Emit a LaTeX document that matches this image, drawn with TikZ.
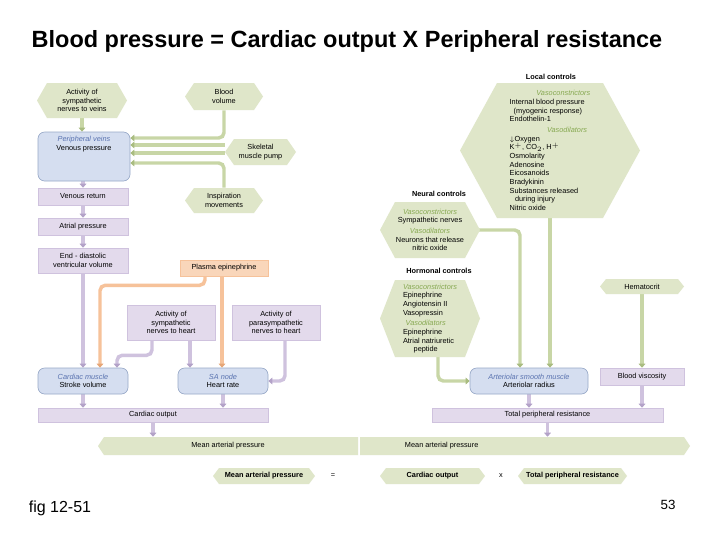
\documentclass[tikz,border=0pt]{standalone}
\usepackage{fontspec}
\setmainfont{Liberation Sans}
\usetikzlibrary{arrows.meta,calc}
\pgfdeclarelayer{bg}\pgfsetlayers{bg,main}
\definecolor{gf}{HTML}{DFE6C9}\definecolor{gl}{HTML}{C8D6A6}\definecolor{gd}{HTML}{A9BC80}
\definecolor{pf}{HTML}{E3DAEC}\definecolor{pl}{HTML}{CFC2DE}\definecolor{pd}{HTML}{B3A2C8}
\definecolor{bf}{HTML}{D5DEF0}\definecolor{bd}{HTML}{98A9C8}
\definecolor{of}{HTML}{F9D6BA}\definecolor{ol}{HTML}{F6C29A}\definecolor{od}{HTML}{E6A677}
\definecolor{bi}{HTML}{5A73B0}\definecolor{gi}{HTML}{86A850}
\newcommand\bx[7]{%
 \pgfmathsetmacro\cx{(#2+#4)/2}\pgfmathsetmacro\cy{(#3+#5)/2}%
 \pgfmathsetmacro\w{(#4-#2)*0.75}\pgfmathsetmacro\h{(#5-#3)*0.75}%
 \node[#6, minimum width=\w pt, minimum height=\h pt] (#1) at (\cx,\cy) {#7};}
\newcommand\hxs[8]{%
 \pgfmathsetmacro\cy{(#3+#5)/2}%
 \fill[gf] (#2,\cy)--(#2+#6,#3)--(#4-#6,#3)--(#4,\cy)--(#4-#6,#5)--(#2+#6,#5)--cycle;
 \bx{#1}{#2}{#3}{#4}{#5}{#8}{#7}}
\newcommand\hx[7]{\hxs{#1}{#2}{#3}{#4}{#5}{#6}{#7}{t}}
\newcommand\vc[1]{\textcolor{bi}{\itshape #1}}
\newcommand\gc[1]{\textcolor{gi}{\itshape #1}}
\tikzset{t/.style={inner sep=0pt,align=center,font=\fontsize{5.5}{6.5}\selectfont},
 tl/.style={t,align=left},
 pb/.style={t,fill=pf,draw=pl,line width=0.4pt},
 ob/.style={t,fill=of,draw=ol,line width=0.4pt},
 rb/.style={t,fill=bf,draw=bd,line width=0.5pt,rounded corners=5pt},
 G/.style={draw=gl,line width=2.6pt,rounded corners=4pt,-{Triangle[width=5pt,length=3pt,color=gd]}},
 P/.style={G,draw=pl,-{Triangle[width=5pt,length=3pt,color=pd]}},
 O/.style={G,draw=ol,-{Triangle[width=5pt,length=3pt,color=od]}},
 lab/.style={font=\fontsize{5.5}{6.5}\selectfont\bfseries}}
\begin{document}
\begin{tikzpicture}[x=0.75pt,y=-0.75pt]
\useasboundingbox (0,0) rectangle (720,540);
\node[font=\fontsize{17.6}{19}\selectfont\bfseries] (title) at (347,41) {Blood pressure = Cardiac output X Peripheral resistance};
\node[font=\fontsize{12}{14}\selectfont] (fig) at (60,508) {fig 12-51};
\node[font=\fontsize{10}{12}\selectfont] (pg) at (668,505) {53};
% left column
\hx{sv}{37}{83}{127}{118}{10}{Activity of\\sympathetic\\nerves to veins}
\hx{bv}{185}{83}{263}{110}{9}{Blood\\volume}
\bx{pv}{38}{132}{130}{181}{rb}{\vc{Peripheral veins}\\Venous pressure\\~\\~\\~}
\hx{sk}{225}{139}{296}{165}{9}{Skeletal\\muscle pump}
\hx{in}{185}{188}{263}{213}{9}{Inspiration\\movements}
\bx{vr}{38}{188}{128}{205}{pb}{Venous return}
\bx{ap}{38}{218}{128}{235}{pb}{Atrial pressure}
\bx{ed}{38}{248}{128}{273}{pb}{End - diastolic\\ventricular volume}
\bx{pe}{180}{260}{268}{276}{ob}{Plasma epinephrine}
\bx{sh}{127}{305}{215}{340}{pb}{Activity of\\sympathetic\\nerves to heart}
\bx{ps}{232}{305}{320}{340}{pb}{Activity of\\parasympathetic\\nerves to heart}
\bx{cm}{38}{368}{128}{394}{rb}{\vc{Cardiac muscle}\\Stroke volume}
\bx{sa}{178}{368}{268}{394}{rb}{\vc{SA node}\\Heart rate}
\bx{co}{38}{408}{268}{422}{pb}{Cardiac output}
% MAP band
\fill[gf] (98,446)--(104,437)--(358,437)--(358,455)--(104,455)--cycle;
\fill[gf] (360,437)--(684,437)--(690,446)--(684,455)--(360,455)--cycle;
\bx{mapl}{98}{437}{358}{455}{t}{Mean arterial pressure}
\bx{mapr}{360}{437}{690}{455}{t}{\hspace*{-125pt}Mean arterial pressure}
% bottom equation
\hx{em}{213}{468}{315}{484}{6}{\bfseries Mean arterial pressure}
\node[t] (eq) at (333,476) {=};
\hx{ec}{380}{468}{485}{484}{6}{\bfseries Cardiac output}
\node[t] (ex) at (501,476) {x};
\hx{et}{518}{468}{627}{484}{6}{\bfseries Total peripheral resistance}
% right column
\node[lab] (lcl) at (551,77) {Local controls};
\hxs{lc}{460}{83}{640}{218}{37}{%
\hspace*{20pt}\gc{Vasoconstrictors}\\Internal blood pressure\\\hspace*{3pt}(myogenic response)\\Endothelin-1\\[1.5pt]
\hspace*{28pt}\gc{Vasodilators}\\$\downarrow$Oxygen\\K$^{+}$, CO$_2$, H$^{+}$\\Osmolarity\\Adenosine\\Eicosanoids\\Bradykinin\\Substances released\\\hspace*{4pt}during injury\\Nitric oxide}{tl}
\node[lab] (ncl) at (439,194) {Neural controls};
\hx{nc}{380}{202}{480}{258}{15}{\gc{Vasoconstrictors}\\Sympathetic nerves\\[1.5pt]\gc{Vasodilators}\\Neurons that release\\nitric oxide}
\node[lab] (hcl) at (439,271) {Hormonal controls};
\hxs{hc}{380}{280}{480}{357}{15}{\gc{Vasoconstrictors}\\Epinephrine\\Angiotensin II\\Vasopressin\\[1.5pt]\hspace*{2pt}\gc{Vasodilators}\\Epinephrine\\Atrial natriuretic\\\hspace*{8pt}peptide}{tl}
\hx{hm}{600}{279}{684}{294}{6}{Hematocrit}
\bx{asm}{470}{368}{588}{394}{rb}{\vc{Arteriolar smooth muscle}\\Arteriolar radius}
\bx{bvi}{600}{368}{684}{385}{pb}{Blood viscosity}
\bx{tpr}{432}{408}{663}{422}{pb}{Total peripheral resistance}
\coordinate (y138) at (0,138);\coordinate (y145) at (0,145);
\coordinate (y153) at (0,153);\coordinate (y163) at (0,163);
\begin{pgfonlayer}{bg}
\fill[white] (0,0) rectangle (720,540);
\draw[G] (sv.south) -- (pv.north -| sv.south);
\draw[G] (bv.south) |- (pv.east |- y138);
\draw[G] (sk.west |- y145) -- (pv.east |- y145);
\draw[G] (sk.west |- y153) -- (pv.east |- y153);
\draw[G] (in.north) |- (pv.east |- y163);
\draw[P] (pv.south -| vr.north) -- (vr.north);
\draw[P] (vr.south) -- (ap.north);
\draw[P] (ap.south) -- (ed.north);
\draw[P] (ed.south) -- (cm.north -| ed.south);
\draw[O] ($(pe.south)+(-19,0)$) -- ++(0,9) -| ($(cm.north)+(17,0)$);
\draw[O] ($(pe.south)+(-2,0)$) -- ($(sa.north)+(-1,0)$);
\draw[P] ($(sh.south)+(-19,0)$) -- ++(0,15) -| ($(cm.north)+(34,0)$);
\draw[P] ($(sh.south)+(19,0)$) -- ($(sa.north)+(-33,0)$);
\draw[P] ($(ps.south)+(9,0)$) |- (sa.east);
\draw[P] (cm.south) -- (co.north -| cm.south);
\draw[P] (sa.south) -- (co.north -| sa.south);
\draw[P] (co.south) -- (mapl.north -| co.south);
\draw[G] ($(lc.south)+(0,-3)$) -- (asm.north -| lc.south);
\draw[G] ($(nc.east)+(-5,0)$) -| ($(asm.north)+(-9,0)$);
\draw[G] ($(hc.south)+(8,-3)$) |- (asm.west);
\draw[G] (hm.south) -- (bvi.north);
\draw[P] (bvi.south) -- (tpr.north -| bvi.south);
\draw[P] (asm.south) -- (tpr.north -| asm.south);
\draw[P] (tpr.south) -- (mapr.north -| tpr.south);
\end{pgfonlayer}
\end{tikzpicture}
\end{document}
